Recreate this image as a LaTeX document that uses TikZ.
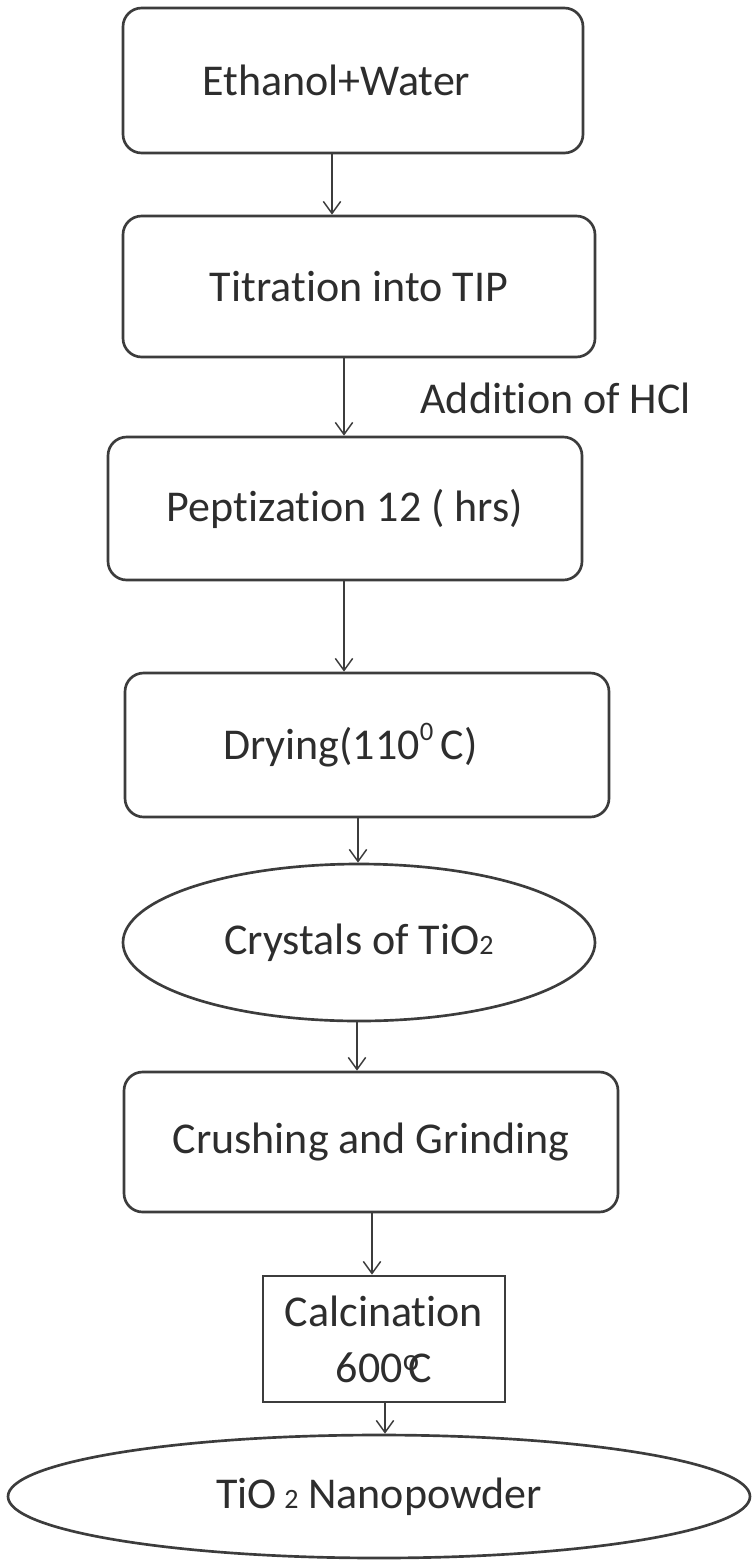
\documentclass[tikz,border=0pt]{standalone}
\usepackage{fontspec}
\setmainfont[Ligatures=NoCommon]{Carlito}
\usetikzlibrary{arrows.meta,shapes.geometric}

\definecolor{lineGray}{RGB}{60,60,60}
\definecolor{textGray}{RGB}{45,45,45}
\newcommand{\degC}{\iffontchar\font"2103 ℃\else\textsuperscript{o}\kern-0.25em C\fi}
\newcommand{\smalltwo}{{\fontsize{21}{21}\selectfont 2}}

\tikzset{every picture/.style={line width=0.75pt}}
\tikzset{
  stepbox/.style={draw=lineGray, line width=2pt, rounded corners=14pt, inner sep=0pt,
    align=center, text=textGray, font=\fontsize{33}{42}\selectfont},
  plainbox/.style={stepbox, rounded corners=0pt},
  ovalbox/.style={stepbox, ellipse},
  flow/.style={draw=lineGray, line width=1.1pt, -{Straight Barb[length=9pt,width=13pt]}}
}

\begin{document}
\begin{tikzpicture}[x=0.75pt,y=0.75pt,yscale=-1,xscale=1]
\useasboundingbox (0,0) rectangle (753,1563);

% Steps
\draw (353,80.5) node [stepbox, minimum width=345pt, minimum height=108.75pt] (eth) {Ethanol+Water\hspace*{25pt}};
\draw (359,286.5) node [stepbox, minimum width=354pt, minimum height=105.75pt] (tit) {Titration into TIP};
\draw (345,508.5) node [stepbox, minimum width=355.5pt, minimum height=107.25pt] (pep) {Peptization 12 ( hrs)};
\draw (367,745) node [stepbox, minimum width=363pt, minimum height=108pt] (dry) {Drying(110\raisebox{14pt}{\fontsize{20}{20}\selectfont 0}\,C)\hspace*{25pt}};
\draw (359,942.5) node [ovalbox, minimum width=354pt, minimum height=117.75pt] (cry) {Crystals of TiO\smalltwo};
\draw (371,1142) node [stepbox, minimum width=370.5pt, minimum height=105pt] (cru) {Crushing and Grinding};
\draw (384,1339) node [plainbox, minimum width=181.5pt, minimum height=94.5pt] (cal) {Calcination\\600\degC};
\draw (379,1496.5) node [ovalbox, minimum width=556.5pt, minimum height=92.25pt] (nano) {TiO\,\smalltwo\ Nanopowder};

% Text Node
\draw (420,398) node [anchor=west, inner sep=0pt, text=textGray, font=\fontsize{33}{42}\selectfont] (hcl) {Addition of HCl};

% Arrow columns
\coordinate (c1) at (332,0);
\coordinate (c2) at (344,0);
\coordinate (c3) at (344,0);
\coordinate (c4) at (358,0);
\coordinate (c5) at (357,0);
\coordinate (c6) at (372,0);
\coordinate (c7) at (385,0);

% Straight Lines
\draw [flow] (eth.south -| c1) -- (tit.north -| c1);
\draw [flow] (tit.south -| c2) -- (pep.north -| c2);
\draw [flow] (pep.south -| c3) -- (dry.north -| c3);
\draw [flow] (dry.south -| c4) -- (cry.north -| c4);
\draw [flow] (cry.south -| c5) -- (cru.north -| c5);
\draw [flow] (cru.south -| c6) -- (cal.north -| c6);
\draw [flow] (cal.south -| c7) -- (nano.north -| c7);
\end{tikzpicture}
\end{document}
